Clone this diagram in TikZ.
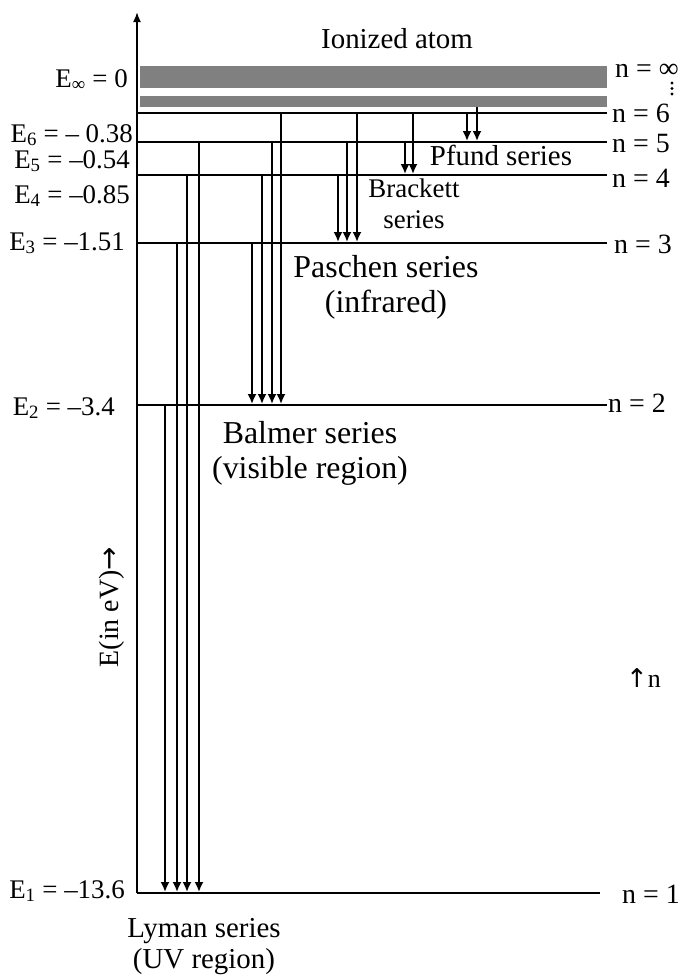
\documentclass[tikz,border=0pt]{standalone}
\usepackage{fontspec}
\setmainfont{Liberation Serif}
\newfontfamily\arrowfont{DejaVu Sans}
\usetikzlibrary{arrows.meta}

\begin{document}
\begin{tikzpicture}[x=1bp, y=-1bp,
  lvl/.style={line width=1.8bp},
  jump/.style={line width=1.8bp, -{Latex[length=10bp,width=9bp]}, shorten >=1bp},
  elab/.style={anchor=base east, inner sep=0pt, font=\fontsize{27}{32}\selectfont},
  nlab/.style={anchor=base west, inner sep=0pt, font=\fontsize{28}{32}\selectfont},
  series/.style={anchor=base, align=center, inner sep=0pt, font=\fontsize{30}{35}\selectfont}]
  \useasboundingbox (0,0) rectangle (684,977);
  % energy axis
  \draw[line width=1.8bp, -{Latex[length=10bp,width=8bp]}] (137,893) -- (137,12);
  % continuum
  \fill[black!50] (140,66) rectangle (607,88);
  \fill[black!50] (140,96) rectangle (607,107);
  % levels
  \foreach \y/\e in {113/607, 142/607, 175/607, 243/607, 405/607, 893/600}
    \draw[lvl] (137,\y) -- (\e,\y);
  % transitions: x / upper level / lower level
  \foreach \x/\a/\b in {165/405/893, 177/243/893, 187/175/893, 199/142/893,
                        252/243/405, 262/175/405, 272/142/405, 281/113/405,
                        338/175/243, 347/142/243, 357/113/243,
                        405/142/175, 413/113/175,
                        467/113/142, 477/107/142}
    \draw[jump] (\x,\a) -- (\x,\b);
  % energies
  \node[elab] (einf) at (128,87) {E\textsubscript{∞} = 0};
  \node[elab] (esix) at (133,142) {E\textsubscript{6} = -- 0.38};
  \node[elab] (efive) at (130,168) {E\textsubscript{5} = --0.54};
  \node[elab] (efour) at (130,203) {E\textsubscript{4} = --0.85};
  \node[elab] (ethree) at (125,250) {E\textsubscript{3} = --1.51};
  \node[elab] (etwo) at (115,415) {E\textsubscript{2} = --3.4};
  \node[elab] (eone) at (125,898) {E\textsubscript{1} = --13.6};
  % quantum numbers
  \node[nlab] (ninf) at (615,77) {n = ∞};
  \foreach \y in {83,88.5,94} \fill (672,\y) circle (1.6bp);
  \node[nlab] (nsix) at (612,122) {n = 6};
  \node[nlab] (nfive) at (612,152) {n = 5};
  \node[nlab] (nfour) at (612,187) {n = 4};
  \node[nlab] (nthree) at (614,253) {n = 3};
  \node[nlab] (ntwo) at (608,412) {n = 2};
  \node[nlab] (none) at (622,903) {n = 1};
  % series names (anchored at the last line)
  \node[series, font=\fontsize{29}{33}\selectfont] (ion) at (397,48) {Ionized atom};
  \node[series, font=\fontsize{29}{33}\selectfont] (pfund) at (501,165) {Pfund series};
  \node[series, font=\fontsize{27}{31}\selectfont] (brackett) at (414,228) {Brackett\\series};
  \node[series, font=\fontsize{32}{35}\selectfont] (paschen) at (386,312) {Paschen series\\(infrared)};
  \node[series, font=\fontsize{32}{35}\selectfont] (balmer) at (310,478) {Balmer series\\(visible region)};
  \node[series, font=\fontsize{29}{31}\selectfont] (lyman) at (204,968) {Lyman series\\(UV region)};
  % axis names
  \node[rotate=90, anchor=base, inner sep=0pt, font=\fontsize{28}{32}\selectfont] (eaxis) at (118,607) {E(in eV){\arrowfont →}};
  \node[anchor=base west, inner sep=0pt, font=\fontsize{26}{30}\selectfont] (naxis) at (626,687) {{\arrowfont ↑}n};
\end{tikzpicture}
\end{document}
